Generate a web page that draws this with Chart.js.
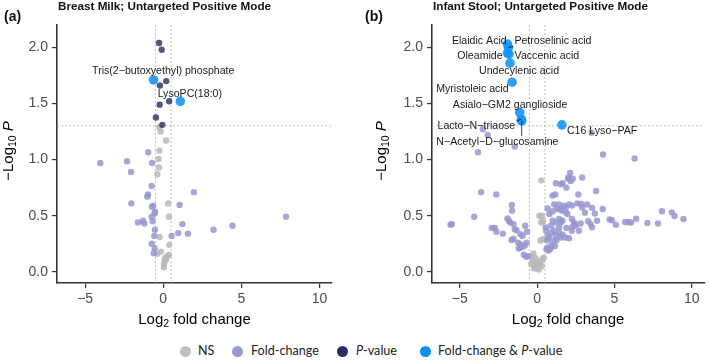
<!DOCTYPE html>
<html>
<head>
<meta charset="utf-8">
<script src="https://cdn.jsdelivr.net/npm/chart.js@4.4.1/dist/chart.umd.min.js"></script>
<style>
  body { margin: 0; background: #fff; width: 709px; height: 360px; overflow: hidden; position: relative; }
  #milk { position: absolute; left: 0; top: 0; }
  #stool { position: absolute; left: 355px; top: 0; }
  #legend { position: absolute; left: 0; top: 343px; width: 709px; height: 16px; font-family: Lato, "Open Sans", sans-serif; font-size: 12.6px; color: #222; }
  .item { position: absolute; top: 0; line-height: 16px; white-space: nowrap; }
  .dot { position: absolute; top: 2.5px; width: 11px; height: 11px; border-radius: 50%; }
</style>
</head>
<body>
<canvas id="milk" width="355" height="335"></canvas>
<canvas id="stool" width="354" height="335"></canvas>
<div id="legend"></div>
<script>
// ---- data: [log2 fold change, -log10 P] ----
const xTicks = [-5, 0, 5, 10]
const yTicks = [0, 0.5, 1, 1.5, 2]
const fcCut = [-0.5, 0.5]
const pCut = 0.05

const groupNames = ['NS', 'Fold-change', '<i>P</i>-value', 'Fold-change &amp; <i>P</i>-value']

// Breast milk
const milkNS = [[-0.25,1.29],[-0.17,1.25],[0.19,1.17],[-0.25,1.08],[-0.3,1.005],[-0.27,0.93],[-0.38,0.87],[0.32,0.61],[0.36,0.49],[-0.23,0.31],[0.38,0.24],[-0.38,0.16],[-0.15,0.18],[0.13,0.12],[0.26,0.14],[0.36,0.15],[0.09,0.10],[0.06,0.07],[0.04,0.04],[0.18,0.11]]
const milkFC = [[-0.96,1.065],[-0.72,0.97],[-2.32,0.985],[-2.06,0.89],[-4.03,0.97],[-0.74,0.765],[1.96,0.71],[-0.98,0.69],[-1.02,0.67],[-2.04,0.61],[-0.64,0.59],[-0.72,0.58],[1.05,0.595],[-0.52,0.535],[-0.55,0.52],[-0.74,0.49],[7.86,0.49],[-0.68,0.45],[-1.62,0.44],[-1.3,0.455],[-1.21,0.43],[1.22,0.425],[4.43,0.41],[-0.53,0.375],[3.22,0.375],[0.96,0.345],[1.58,0.34],[-0.57,0.32],[0.54,0.32],[-0.74,0.25],[-0.55,0.21],[-0.61,0.165]]
const milkP = [[-0.27,2.04],[-0.1,1.98],[0.19,1.70],[-0.21,1.66],[0.38,1.52],[-0.23,1.49],[-0.47,1.375],[-0.06,1.31]]
const milkBoth = [[-0.62,1.71],[1.09,1.52]]
const milkNames = ['Tris(2−butoxyethyl) phosphate', 'LysoPC(18:0)']

// Infant stool
const stoolNS = [[0.27,0.815],[0.15,0.5],[0.32,0.5],[0.26,0.44],[0.38,0.45],[0.21,0.277],[0.36,0.29],[-0.24,0.163],[-0.28,0.098],[-0.06,0.083],[0.15,0.069],[-0.17,0.054],[0.04,0.038],[0.26,0.098],[0.36,0.113],[-0.1,0.12],[0.1,0.02],[0.0,0.06],[-0.35,0.13],[0.42,0.125],[-0.2,0.03],[-0.38,0.07],[0.3,0.05]]
const stoolFC = [[-3.83,1.065],[-3.2,1.22],[-3.51,1.27],[-1.45,1.116],[3.51,1.24],[4.26,1.045],[6.3,1.01],
  [-3.62,0.71],[-2.64,0.69],[-4.07,0.49],[-5.6,0.42],[-5.52,0.425],
  [-1.64,0.595],[-1.62,0.545],[-1.92,0.476],[-1.83,0.455],[-1.75,0.44],
  [-2.94,0.39],[-2.73,0.39],[-2.64,0.357],[-2.22,0.34],
  [-1.53,0.425],[-1.45,0.38],[-1.34,0.37],
  [-1.09,0.336],[-0.94,0.32],[-0.77,0.41],[-0.66,0.357],
  [-1.53,0.295],[-1.66,0.283],
  [-1.24,0.26],[-1.09,0.247],[-0.98,0.223],[-0.81,0.232],[-0.68,0.26],[-1.19,0.208],[-1.07,0.217],
  [-0.86,0.152],[-0.7,0.134],[-0.58,0.14],
  [1.21,0.79],[1.64,0.79],[2.02,0.84],[1.0,0.68],[1.17,0.69],[0.68,0.565],[0.79,0.515],[1.0,0.54],
  [1.42,0.60],[1.49,0.56],[1.6,0.545],[1.74,0.59],[1.85,0.53],
  [1.0,0.455],[0.89,0.41],[1.21,0.44],[1.42,0.47],[1.53,0.44],
  [0.55,0.396],[0.58,0.366],[0.68,0.32],[0.79,0.306],[0.93,0.35],[1.1,0.366],[1.21,0.32],[1.42,0.35],[1.53,0.306],
  [0.68,0.217],[0.85,0.203],[0.93,0.232],
  [2.13,0.88],[2.3,0.83],[2.0,0.83],[2.91,0.84],[1.89,0.75],[3.81,0.72],[2.66,0.69],[2.17,0.81],[1.53,0.78],
  [1.85,0.574],[2.06,0.60],[2.27,0.59],[2.6,0.61],[2.85,0.604],[2.91,0.574],
  [1.96,0.515],[3.09,0.527],[3.73,0.52],[4.24,0.56],
  [1.64,0.455],[2.24,0.47],[2.38,0.44],[2.49,0.41],
  [2.81,0.43],[3.3,0.45],[3.45,0.425],[3.55,0.396],[3.87,0.455],
  [4.68,0.467],[4.83,0.46],[5.09,0.42],[5.69,0.444],[5.9,0.444],[6.07,0.44],[6.4,0.473],
  [7.13,0.435],[7.81,0.43],[8.07,0.54],[8.71,0.53],[8.88,0.497],[9.46,0.47],
  [1.64,0.33],[1.81,0.306],[2.06,0.30],[2.24,0.366],[2.43,0.425],[2.7,0.366],
  [1.42,0.396],[1.89,0.39],[2.27,0.40],
  [0.6,0.2],[0.75,0.19],[1.05,0.27],[1.25,0.28],[1.15,0.23],[0.65,0.28],[3.23,0.6],[3.55,0.57],[1.1,0.6],[1.3,0.56]]
const stoolP = []
const stoolBoth = [[-1.92,2.03],[-1.86,2.0],[-1.92,1.95],[-1.82,1.94],[-1.76,1.86],[-1.62,1.69],[-1.13,1.42],[-1.02,1.36],[-1.0,1.345],[1.6,1.31]]
const stoolNames = ['Elaidic Acid', 'Petroselinic acid', 'Oleamide', 'Vaccenic acid', 'Undecylenic acid', 'Myristoleic acid', 'Asialo−GM2 ganglioside', 'Lacto−N−triaose', 'N−Acetyl−D−glucosamine', 'C16 Lyso−PAF']

// where the repelled labels sit (data units, text centre)
const milkLabelAt = [[0.0,1.79],[1.7,1.585]]
const stoolLabelAt = [[-3.74,2.056],[1.02,2.056],[-3.7,1.92],[0.63,1.92],[-1.17,1.786],[-4.19,1.625],[-1.75,1.488],[-3.93,1.295],[-2.57,1.16],[4.2,1.253]]

// ---- styles ----
const colors = ['rgba(185,185,185,0.85)', 'rgba(150,150,208,0.85)', 'rgba(44,44,102,0.8)', 'rgba(20,150,250,0.9)']
const legendColors = ['#c0c0c0', '#9a9ad0', '#2c2c66', '#0a90f0']
const sans = '"Liberation Sans", Arial, sans-serif'

function fmtTick(v, d) {
    return v.toFixed(d).replace('-', '−')
}

function drawRuns(ctx, runs, x, y) {
    let total = 0
    runs.forEach(r => { ctx.font = r.font; total += ctx.measureText(r.t).width })
    let cx = x - total / 2
    runs.forEach(r => {
        ctx.font = r.font
        ctx.fillText(r.t, cx, y + (r.dy || 0))
        cx += ctx.measureText(r.t).width
    })
}

function volcanoPlugin(opt) {
    return {
        id: 'volcano',
        beforeDatasetsDraw(chart) {
            const { ctx, chartArea: a, scales: { x, y } } = chart
            ctx.save()
            ctx.strokeStyle = '#a8a8a8'
            ctx.lineWidth = 0.7
            ctx.setLineDash([2, 2])
            ctx.beginPath()
            fcCut.forEach(v => {
                const px = x.getPixelForValue(v)
                ctx.moveTo(px, a.top)
                ctx.lineTo(px, a.bottom)
            })
            const py = y.getPixelForValue(-Math.log10(pCut))
            ctx.moveTo(a.left, py)
            ctx.lineTo(a.right, py)
            ctx.stroke()
            ctx.restore()
        },
        afterDatasetsDraw(chart) {
            const { ctx, scales: { x, y } } = chart
            ctx.save()
            ctx.font = '10.6px ' + sans
            ctx.textAlign = 'center'
            ctx.textBaseline = 'middle'
            opt.names.forEach((name, i) => {
                const tx = x.getPixelForValue(opt.labelAt[i][0])
                const ty = y.getPixelForValue(opt.labelAt[i][1])
                const px = x.getPixelForValue(opt.points[i][0])
                const py = y.getPixelForValue(opt.points[i][1])
                const w = ctx.measureText(name).width / 2 + 1
                const h = 5.5
                const cx = Math.max(tx - w, Math.min(px, tx + w))
                const cy = Math.max(ty - h, Math.min(py, ty + h))
                if (Math.hypot(px - cx, py - cy) > 5) {
                    ctx.strokeStyle = '#111'
                    ctx.lineWidth = 0.8
                    ctx.beginPath()
                    ctx.moveTo(cx, cy)
                    ctx.lineTo(px, py)
                    ctx.stroke()
                }
                ctx.fillStyle = '#1a1a1a'
                ctx.fillText(name, tx, ty)
            })
            ctx.restore()
        },
        afterDraw(chart) {
            const { ctx, chartArea: a } = chart
            ctx.save()
            ctx.fillStyle = '#111'
            ctx.textAlign = 'left'
            ctx.textBaseline = 'middle'
            ctx.font = 'bold 14px ' + sans
            ctx.fillText(opt.tag, opt.tagX, 17)
            ctx.textBaseline = 'alphabetic'
            ctx.font = 'bold 11.7px ' + sans
            ctx.fillText(opt.title, a.left + 1, 10)

            // axis titles
            ctx.fillStyle = '#000'
            ctx.textBaseline = 'middle'
            const big = '15px ' + sans, small = '10.5px ' + sans
            drawRuns(ctx, [{ t: 'Log', font: big }, { t: '2', font: small, dy: 4 }, { t: ' fold change', font: big }],
                (a.left + a.right) / 2, 320)
            ctx.translate(opt.yTitleX, (a.top + a.bottom) / 2 - 3)
            ctx.rotate(-Math.PI / 2)
            drawRuns(ctx, [{ t: '−Log', font: big }, { t: '10', font: small, dy: 4 }, { t: ' ', font: big }, { t: 'P', font: 'italic ' + big }], 0, 0)
            ctx.restore()
        }
    }
}

function makeChart(id, groups, opt) {
    const sizes = [3.2, 3.2, 3.2, 4.8]
    return new Chart(document.getElementById(id), {
        type: 'scatter',
        data: {
            datasets: groups.map((g, i) => ({
                label: groupNames[i],
                data: g.map(p => ({ x: p[0], y: p[1] })),
                backgroundColor: colors[i],
                borderWidth: 0,
                pointRadius: sizes[i],
                order: 4 - i
            }))
        },
        options: {
            responsive: false,
            animation: false,
            layout: { padding: { left: 0, top: 25, right: opt.padRight, bottom: 0 } },
            plugins: { legend: { display: false }, tooltip: { enabled: false } },
            scales: {
                x: {
                    type: 'linear', min: -6.8, max: 10.8,
                    afterBuildTicks: s => { s.ticks = xTicks.map(v => ({ value: v })) },
                    afterFit: s => { s.height = 52 },
                    ticks: { color: '#4d4d4d', font: { family: sans, size: 14 }, padding: 3, callback: v => fmtTick(v, 0) },
                    grid: { drawOnChartArea: false, tickLength: 5, color: '#333', lineWidth: 1.2 },
                    border: { color: '#333', width: 1.6 }
                },
                y: {
                    type: 'linear', min: -0.1, max: 2.2,
                    afterBuildTicks: s => { s.ticks = yTicks.map(v => ({ value: v })) },
                    afterFit: s => { s.width = opt.yWidth },
                    ticks: { color: '#4d4d4d', font: { family: sans, size: 14 }, padding: 4, callback: v => fmtTick(v, 1) },
                    grid: { drawOnChartArea: false, tickLength: 5, color: '#333', lineWidth: 1.2 },
                    border: { color: '#333', width: 1.6 }
                }
            }
        },
        plugins: [volcanoPlugin(opt)]
    })
}

makeChart('milk', [milkNS, milkFC, milkP, milkBoth], {
    tag: '(a)', tagX: 4, title: 'Breast Milk; Untargeted Positive Mode',
    names: milkNames, labelAt: milkLabelAt, points: milkBoth,
    yWidth: 57, padRight: 23, yTitleX: 9
})

makeChart('stool', [stoolNS, stoolFC, stoolP, stoolBoth], {
    tag: '(b)', tagX: 10, title: 'Infant Stool; Untargeted Positive Mode',
    names: stoolNames, labelAt: stoolLabelAt, points: stoolBoth,
    yWidth: 77, padRight: 2, yTitleX: 27
})

// legend under both panels
const legendDotX = [185, 237.5, 342, 425.5]
const legendTextX = [198, 251, 356, 438]
const legend = document.getElementById('legend')
groupNames.forEach((name, i) => {
    const dot = document.createElement('div')
    dot.className = 'dot'
    dot.style.left = (legendDotX[i] - 5.5) + 'px'
    dot.style.background = legendColors[i]
    legend.appendChild(dot)
    const txt = document.createElement('div')
    txt.className = 'item'
    txt.style.left = legendTextX[i] + 'px'
    txt.innerHTML = name
    legend.appendChild(txt)
})
</script>
</body>
</html>
